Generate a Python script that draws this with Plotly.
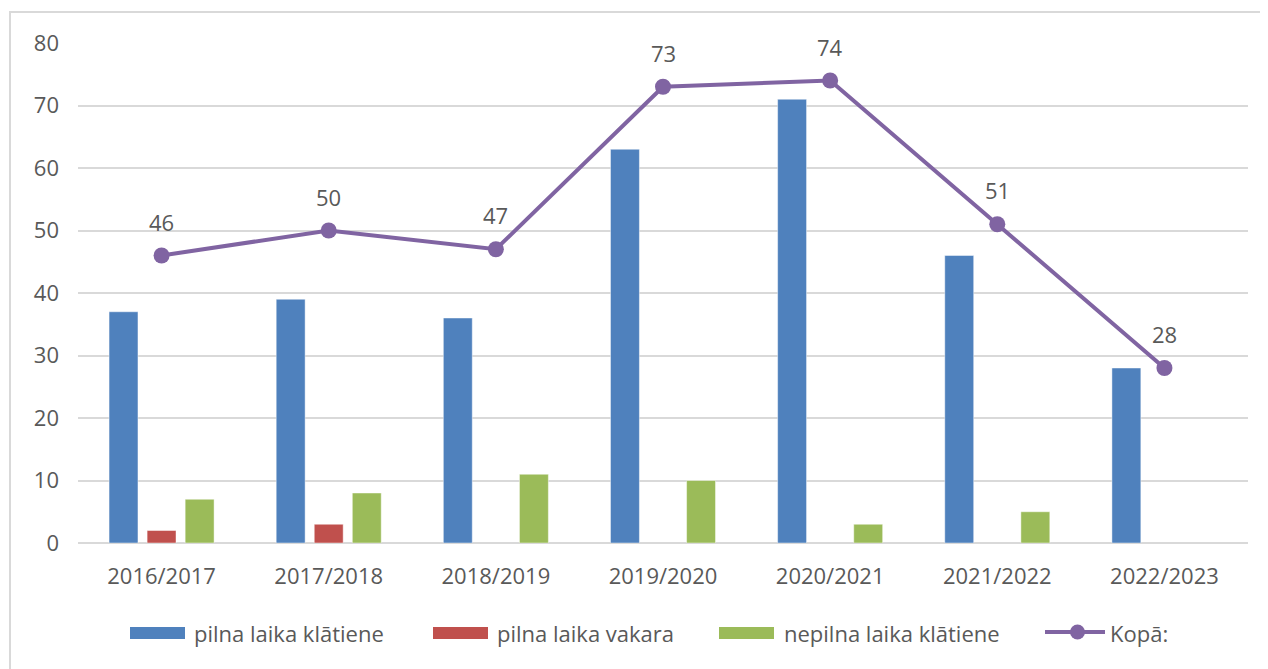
import plotly.graph_objects as go

categories = ["2016/2017", "2017/2018", "2018/2019", "2019/2020", "2020/2021", "2021/2022", "2022/2023"]
pilna_klatiene = [37, 39, 36, 63, 71, 46, 28]
pilna_vakara = [2, 3, None, None, None, None, None]
nepilna_klatiene = [7, 8, 11, 10, 3, 5, None]
kopa = [46, 50, 47, 73, 74, 51, 28]
y_ticks = [0, 10, 20, 30, 40, 50, 60, 70, 80]
series_names = ["pilna laika klātiene", "pilna laika vakara", "nepilna laika klātiene", "Kopā:"]

BLUE = "#4F81BD"
RED = "#C0504D"
GREEN = "#9BBB59"
PURPLE = "#8064A2"
TXT = "#595959"
FONT = "Open Sans"

# page body has an 8px margin; figure coordinates are offset by it
OFF = 8
W, H = 1268 - OFF, 669 - OFF
L, T = 78 - OFF, 43 - OFF
R = W - (1248 - OFF)
B = H - (543 - OFF)
pw = W - L - R
ph = H - T - B


def px(X):  # screen x -> paper x
    return (X - OFF - L) / pw


def py(Y):  # screen y -> paper y
    return (H - B - (Y - OFF)) / ph


fig = go.Figure()
outline = dict(color="rgba(255,255,255,0.45)", width=1)
bar_colors = [BLUE, RED, GREEN]
for name, vals, col in zip(series_names[:3], [pilna_klatiene, pilna_vakara, nepilna_klatiene], bar_colors):
    fig.add_trace(go.Bar(x=categories, y=vals, name=name,
                         marker=dict(color=col, line=outline), showlegend=False))
fig.add_trace(go.Scatter(x=categories, y=kopa, name=series_names[3], mode="lines+markers",
                         line=dict(color=PURPLE, width=4),
                         marker=dict(color=PURPLE, size=16), showlegend=False))

for c, v in zip(categories, kopa):
    fig.add_annotation(x=c, y=v, text=str(v), showarrow=False, yshift=34,
                       font=dict(family=FONT, size=22, color=TXT))

# chart border
fig.add_shape(type="rect", xref="paper", yref="paper",
              x0=px(10), x1=px(1278), y0=py(680), y1=py(12),
              line=dict(color="#D9D9D9", width=2), fillcolor="rgba(0,0,0,0)", layer="below")

# manual legend (Excel style)
LEG_Y = 633
swatch_x = [130, 433, 719]
text_x = [192, 495, 782]
for sx, tx, col, name in zip(swatch_x, text_x, bar_colors, series_names[:3]):
    fig.add_shape(type="rect", xref="paper", yref="paper",
                  x0=px(sx), x1=px(sx + 55), y0=py(LEG_Y + 6), y1=py(LEG_Y - 6),
                  line=dict(width=0), fillcolor=col)
    fig.add_annotation(xref="paper", yref="paper", x=px(tx), y=py(LEG_Y), text=name,
                       showarrow=False, xanchor="left", yanchor="middle",
                       font=dict(family=FONT, size=22, color=TXT))
fig.add_shape(type="line", xref="paper", yref="paper",
              x0=px(1045), x1=px(1105), y0=py(LEG_Y - 1), y1=py(LEG_Y - 1),
              line=dict(color=PURPLE, width=4))
fig.add_shape(type="circle", xref="paper", yref="paper",
              x0=px(1070), x1=px(1085), y0=py(LEG_Y + 6.5), y1=py(LEG_Y - 8.5),
              line=dict(width=0), fillcolor=PURPLE)
fig.add_annotation(xref="paper", yref="paper", x=px(1108), y=py(LEG_Y), text=series_names[3],
                   showarrow=False, xanchor="left", yanchor="middle",
                   font=dict(family=FONT, size=22, color=TXT))

fig.update_layout(
    width=W, height=H,
    margin=dict(l=L, r=R, t=T, b=B, autoexpand=False),
    paper_bgcolor="white", plot_bgcolor="white",
    barmode="group", bargap=0.317, bargroupgap=0.24,
    font=dict(family=FONT, size=22, color=TXT),
    showlegend=False,
    xaxis=dict(showgrid=False, showline=False, ticks="", tickfont=dict(size=22, color=TXT),
               ticklabelstandoff=18),
    yaxis=dict(range=[0, 80], tickvals=y_ticks, showgrid=True, gridcolor="#D9D9D9",
               gridwidth=1.5, zeroline=True, zerolinecolor="#D9D9D9", zerolinewidth=1.5,
               showline=False, ticks="", tickfont=dict(size=22, color=TXT), ticklabelstandoff=18),
)

fig.write_html("out.html")
